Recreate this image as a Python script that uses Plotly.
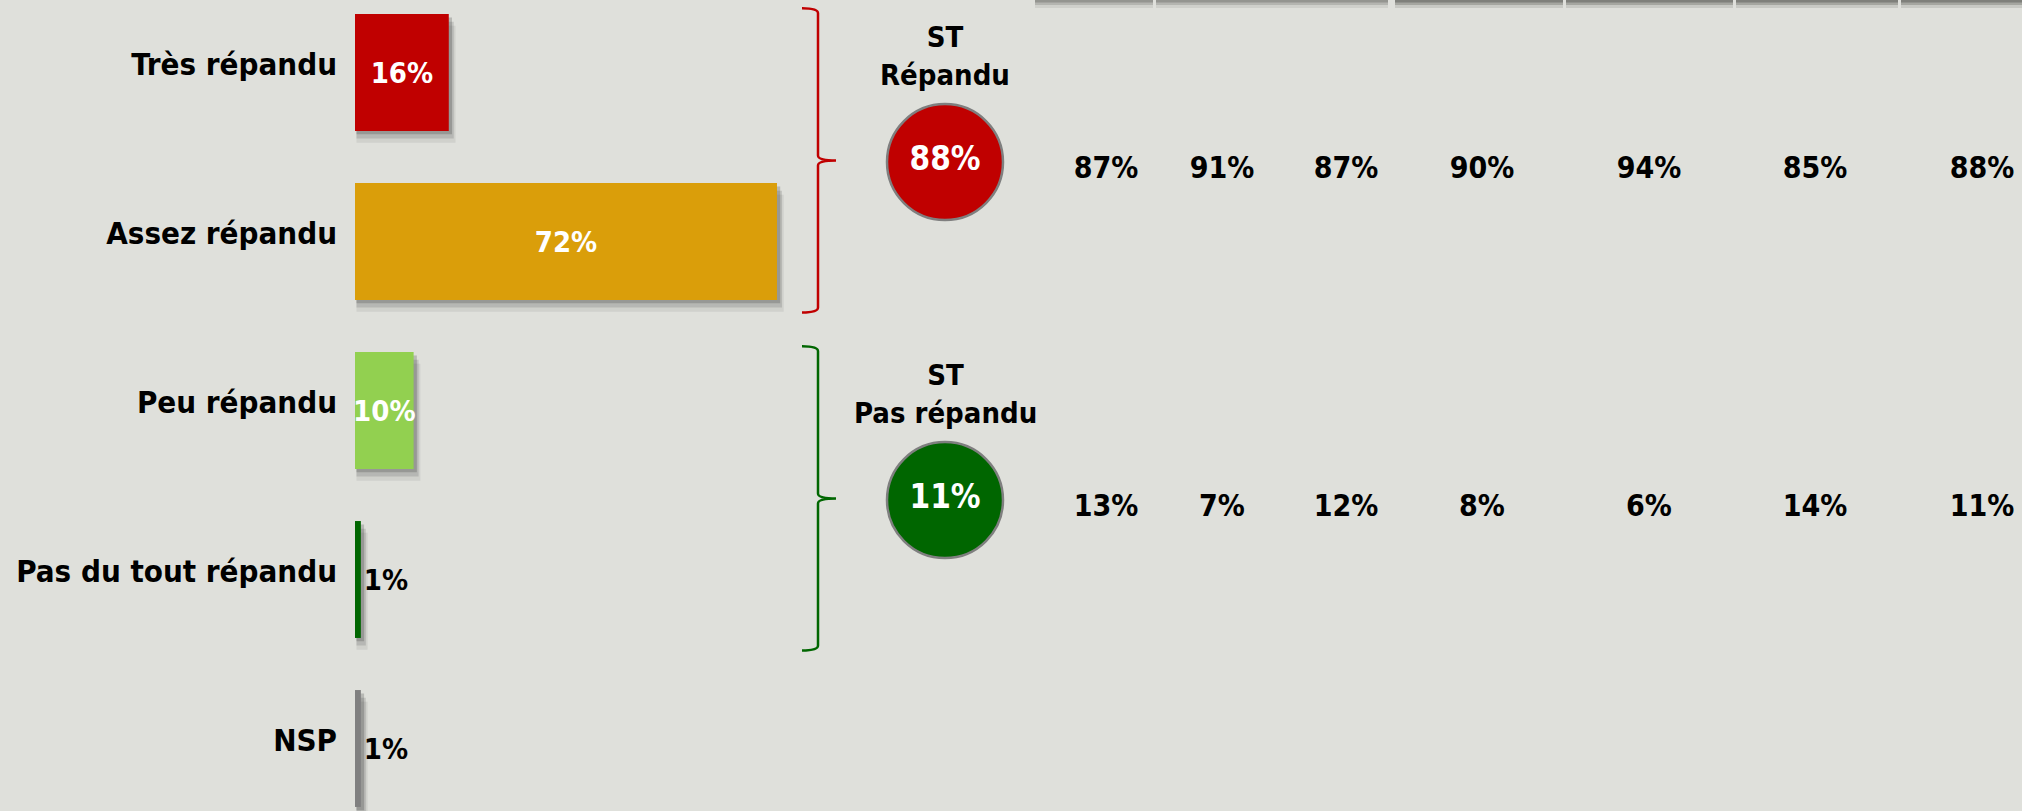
import plotly.graph_objects as go

# ---------------- data ----------------
CATEGORIES = ["Très répandu", "Assez répandu", "Peu répandu", "Pas du tout répandu", "NSP"]
VALUES = [16, 72, 10, 1, 1]
GROUP_TITLES = ["ST<br>Répandu", "ST<br>Pas répandu"]
GROUP_MEMBERS = [[0, 1], [2, 3]]
GROUP_TOTALS = [88, 11]
SUB_REPANDU = [87, 91, 87, 90, 94, 85, 88]
SUB_PAS_REPANDU = [13, 7, 12, 8, 6, 14, 11]

# ---------------- styles / layout constants ----------------
BAR_COLORS = ["#C00000", "#DA9E0A", "#92D050", "#006600", "#808080"]
LABEL_COLORS = ["white", "white", "white", "black", "black"]
GROUP_COLORS = ["#C00000", "#006600"]
BG = "#DFE0DB"
FONT = "DejaVu Sans Condensed, DejaVu Sans, sans-serif"

W, H = 2022, 811
BAR_X0 = 355           # pixel of 0 %
PX_PER_PCT = 5.861
ROW_PX0, ROW_STEP = 72.5, 169.0
BAR_W = 0.692
COL_X = [1106, 1222, 1346, 1482, 1649, 1815, 1982]   # pixel centres of the breakdown columns
CIRCLE_X = 945
BRACE_XL, BRACE_XV, BRACE_XT = 802, 818, 836
HEADER_SEGMENTS = [(1035, 1153, 0.7), (1156, 1388, 0.7), (1395, 1563, 1.0),
                   (1566, 1733, 1.0), (1736, 1898, 1.0), (1901, 2022, 1.0)]

idx = list(range(len(CATEGORIES)))
x_end = (W - BAR_X0) / PX_PER_PCT
y_top = -ROW_PX0 / ROW_STEP
y_bot = (H - ROW_PX0) / ROW_STEP

fig = go.Figure()

# bar drop shadows
for dy, dx, a in [(0.02, 0.3, 0.22), (0.045, 0.6, 0.15), (0.07, 0.9, 0.08)]:
    fig.add_trace(go.Bar(
        y=idx, x=[v + dx for v in VALUES], base=[0.25] * len(VALUES), orientation="h",
        width=BAR_W, offset=-BAR_W / 2 + dy,
        marker=dict(color=f"rgba(40,40,40,{a})", line=dict(width=0)),
        hoverinfo="skip", showlegend=False))

# main bars
LBL_FONT = dict(family=FONT, size=29, color=LABEL_COLORS, weight="bold")
fig.add_trace(go.Bar(
    y=idx, x=VALUES, orientation="h", width=BAR_W, offset=-BAR_W / 2,
    marker=dict(color=BAR_COLORS, line=dict(width=0)),
    text=[f"{v}%" for v in VALUES],
    textposition=["inside", "inside", "inside", "outside", "outside"],
    insidetextanchor="middle", textangle=0, constraintext="none",
    textfont=LBL_FONT, outsidetextfont=LBL_FONT, insidetextfont=LBL_FONT,
    cliponaxis=False, showlegend=False))

# group circles and breakdown numbers
for g, (members, total, color, subs) in enumerate(
        zip(GROUP_MEMBERS, GROUP_TOTALS, GROUP_COLORS, [SUB_REPANDU, SUB_PAS_REPANDU])):
    mid = sum(members) / len(members)
    fig.add_trace(go.Scatter(
        x=[CIRCLE_X], y=[mid + 0.03], xaxis="x2", yaxis="y",
        mode="markers+text", text=[f"{total}%"], textposition="middle center",
        marker=dict(size=116, color=color, line=dict(color="#7F7F7F", width=2.5)),
        textfont=dict(family=FONT, size=33, color="white", weight="bold"),
        cliponaxis=False, showlegend=False, hoverinfo="skip"))
    fig.add_trace(go.Scatter(
        x=COL_X, y=[mid + 0.08] * len(subs), xaxis="x2", yaxis="y",
        mode="text", text=[f"{v}%" for v in subs], textposition="middle center",
        textfont=dict(family=FONT, size=30, color="black", weight="bold"),
        cliponaxis=False, showlegend=False, hoverinfo="skip"))
    fig.add_annotation(
        x=CIRCLE_X, y=mid + 0.03, xref="x2", yref="y", text=GROUP_TITLES[g],
        showarrow=False, yanchor="bottom", yshift=68, align="center",
        font=dict(family=FONT, size=29, color="black", weight="bold"))
    # curly brace
    top = members[0] - 0.38
    bot = members[-1] + 0.42
    m = (top + bot) / 2
    c = 5 / ROW_STEP
    xl, xv, xt = BRACE_XL / W, BRACE_XV / W, BRACE_XT / W
    path = (f"M {xl},{top} Q {xv},{top} {xv},{top + c} L {xv},{m - c} "
            f"Q {xv},{m} {xt},{m} Q {xv},{m} {xv},{m + c} L {xv},{bot - c} "
            f"Q {xv},{bot} {xl},{bot}")
    fig.add_shape(type="path", path=path, xref="paper", yref="y",
                  line=dict(color=color, width=2.5))

# header box shadows at the top edge (boxes themselves are outside the frame)
for x0, x1, k in HEADER_SEGMENTS:
    fig.add_shape(type="rect", xref="paper", yref="paper",
                  x0=x0 / W, x1=x1 / W, y0=1 - 8 / H, y1=1,
                  fillcolor=f"rgba(110,110,105,{0.2 * k})", line=dict(width=0))
    fig.add_shape(type="rect", xref="paper", yref="paper",
                  x0=x0 / W, x1=x1 / W, y0=1 - 5 / H, y1=1,
                  fillcolor=f"rgba(100,100,95,{0.35 * k})", line=dict(width=0))
    fig.add_shape(type="rect", xref="paper", yref="paper",
                  x0=x0 / W, x1=x1 / W, y0=1 - 2.5 / H, y1=1,
                  fillcolor=f"rgba(90,90,85,{0.5 * k})", line=dict(width=0))

fig.update_layout(
    width=W, height=H, margin=dict(l=0, r=0, t=0, b=0),
    paper_bgcolor=BG, plot_bgcolor="rgba(0,0,0,0)", barmode="overlay",
    showlegend=False,
    xaxis=dict(domain=[BAR_X0 / W, 1.0], range=[0, x_end], visible=False,
               showgrid=False, zeroline=False, fixedrange=True),
    xaxis2=dict(domain=[0, 1], range=[0, W], anchor="y", visible=False,
                showgrid=False, zeroline=False, fixedrange=True),
    yaxis=dict(domain=[0, 1], range=[y_bot, y_top], tickmode="array", anchor="x",
               tickvals=idx, ticktext=CATEGORIES, showgrid=False, zeroline=False,
               showline=False, ticks="", ticklabelstandoff=17, ticklabelshift=8,
               automargin=False, fixedrange=True,
               tickfont=dict(family=FONT, size=31, color="black", weight="bold")),
)

fig.write_html("out.html", config={"displayModeBar": False},
               post_script="document.body.style.margin='0';")
